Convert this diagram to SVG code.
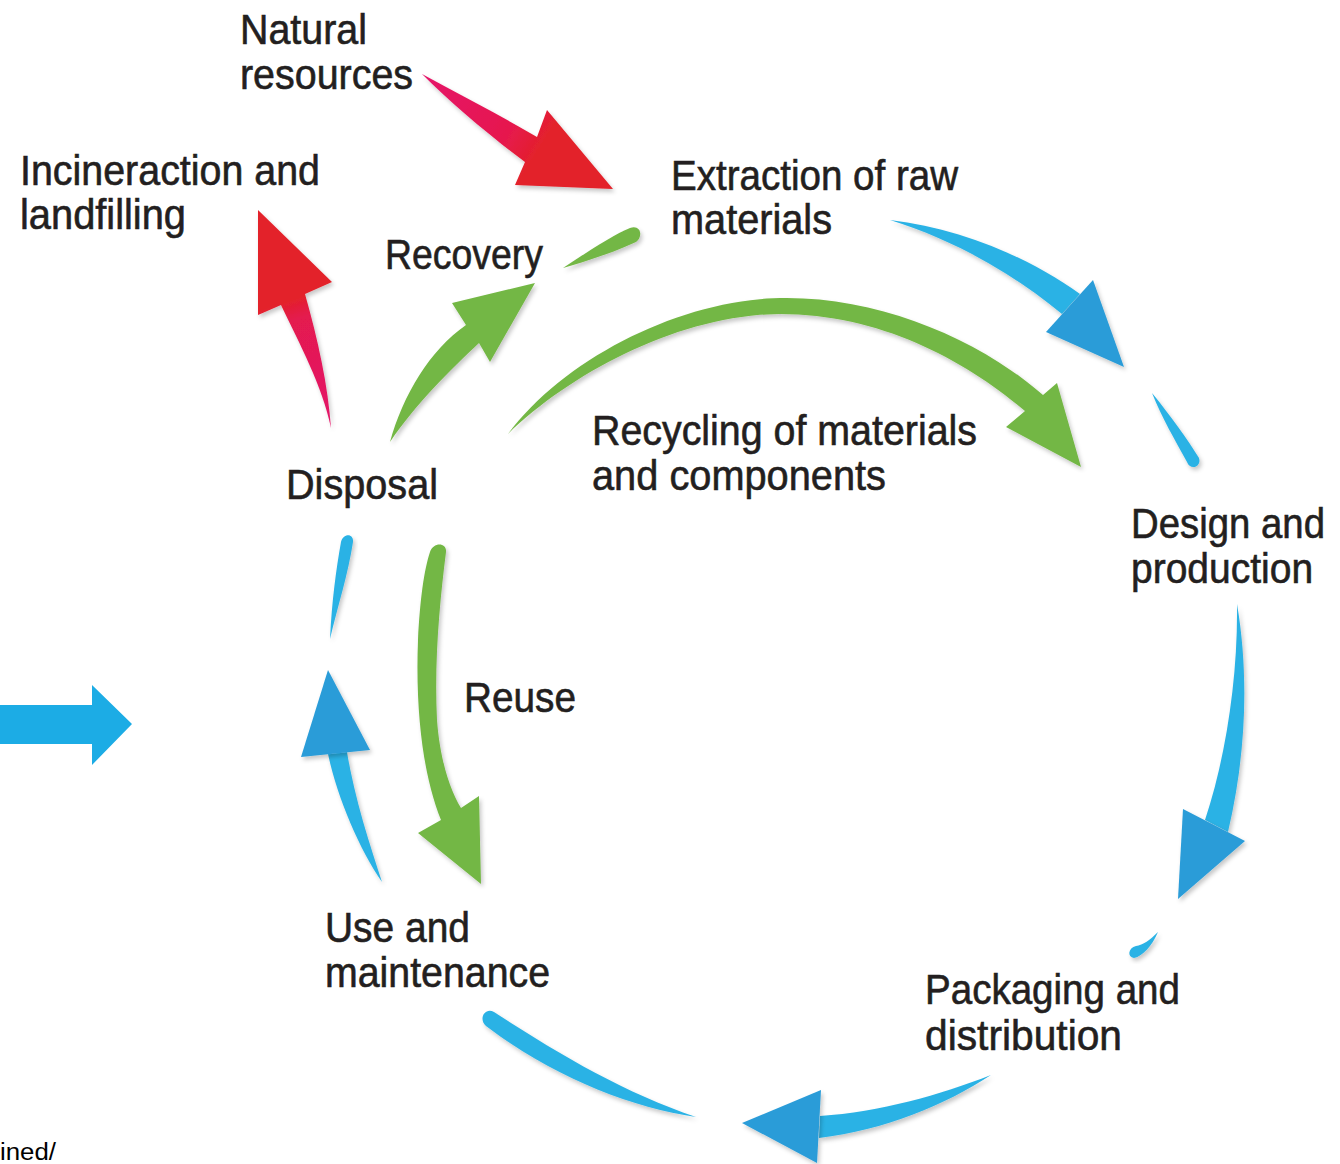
<svg xmlns="http://www.w3.org/2000/svg" width="1340" height="1164" viewBox="0 0 1340 1164">
  <style>
    .lbl { font-family: "Liberation Sans Narrow", "Liberation Sans", Arial, sans-serif; font-size: 42px; fill: #231f20; stroke: #231f20; stroke-width: 0.6px; }
    .note { font-family: "Liberation Sans", Arial, sans-serif; font-size: 23px; fill: #000; }
    .blue { fill: #2cb2e5; }
    .bluehead { fill: #2a9cd8; }
    .green { fill: #73b744; }
    .arrow { filter: url(#soft); }
  </style>
  <defs>
    <filter id="soft" x="-20%" y="-20%" width="140%" height="140%">
      <feDropShadow dx="2" dy="3" stdDeviation="2" flood-color="#000" flood-opacity="0.22"/>
    </filter>
    <linearGradient id="redIn" gradientUnits="userSpaceOnUse" x1="421" y1="76" x2="540" y2="150">
      <stop offset="0" stop-color="#e5176a"/>
      <stop offset="0.75" stop-color="#e6194d"/>
      <stop offset="1" stop-color="#e3212a"/>
    </linearGradient>
    <linearGradient id="redOut" gradientUnits="userSpaceOnUse" x1="330" y1="428" x2="290" y2="300">
      <stop offset="0" stop-color="#e3176a"/>
      <stop offset="0.85" stop-color="#e41a4f"/>
      <stop offset="1" stop-color="#e3212a"/>
    </linearGradient>
  </defs>

  <rect width="1340" height="1164" fill="#ffffff"/>

  <!-- connectors -->
  <g id="connectors">
    <!-- natural resources into extraction -->
    <path class="arrow" fill="url(#redIn)" d="M422,74 C460,95 500,115 537,137 L547,110 L613,189 L515,185 L525,162 C485,132 450,102 422,74 Z"/>
    <!-- disposal to incineration and landfilling -->
    <path class="arrow" fill="url(#redOut)" d="M258,210 L332,282 L305,294 C318,340 328,385 331,428 C322,385 300,345 281,305 L258,315 Z"/>
    <!-- disposal to recovery -->
    <path class="arrow green" d="M535,283 L490,362 L479,343 C450,370 415,405 390,442 C403,395 430,350 466,325 L452,303 Z"/>
    <path class="arrow green" d="M563,268 C590,250 615,234 630,228 C640,224 644,236 636,242 C615,252 590,260 563,268 Z"/>
    <!-- recycling of materials and components -->
    <path class="arrow green" d="M508,434 C565,358 680,300 780,298 C880,296 980,340 1043,395 L1057,383 L1081,467 L1006,427 L1025,411 C965,360 880,314 780,314 C680,315 572,372 508,434 Z"/>
    <!-- extraction to design -->
    <path class="arrow blue" d="M890,220 C960,228 1030,258 1080,294 L1062,314 C1015,275 955,240 890,220 Z"/>
    <path class="arrow bluehead" d="M1093,280 L1124,367 L1046,332 Z"/>
    <path class="arrow blue" d="M1152,393 C1170,415 1188,440 1199,458 C1202,467 1190,471 1187,462 C1175,440 1162,418 1152,393 Z"/>
    <!-- design to packaging -->
    <path class="arrow blue" d="M1237,604 C1250,680 1245,760 1228,832 L1205,820 C1225,760 1238,680 1237,604 Z"/>
    <path class="arrow bluehead" d="M1183,809 L1245,841 L1178,899 Z"/>
    <path class="arrow blue" d="M1158,932 C1150,940 1143,945 1136,946 C1128,948 1127,957 1134,958 C1143,956 1152,946 1158,932 Z"/>
    <!-- packaging to use -->
    <path class="arrow blue" d="M820,1116 C880,1112 940,1095 991,1075 C945,1105 885,1130 819,1138 Z"/>
    <path class="arrow bluehead" d="M742,1123 L821,1090 L817,1163 Z"/>
    <path class="arrow blue" d="M696,1117 C630,1108 550,1075 486,1026 C478,1019 485,1007 494,1012 C560,1055 625,1093 696,1117 Z"/>
    <!-- use to disposal -->
    <path class="arrow blue" d="M347,752 C355,800 370,845 382,882 C360,850 338,800 328,754 Z"/>
    <path class="arrow bluehead" d="M328,670 L370,750 L301,757 Z"/>
    <path class="arrow blue" d="M330,639 C332,600 336,570 341,542 C343,533 354,533 353,542 C348,575 338,605 330,639 Z"/>
    <!-- reuse -->
    <path class="arrow green" d="M481,884 L418,833 L441,820 C425,780 415,720 418,640 C420,600 424,570 430,552 C433,542 447,542 446,552 C440,600 434,660 437,720 C440,760 450,790 461,808 L479,796 Z"/>
    <!-- incoming flow -->
    <path fill="#1cace5" d="M0,705 L92,705 L92,685 L132,724 L92,765 L92,744 L0,744 Z"/>
  </g>

  <!-- nodes -->
  <g id="natural-resources">
    <text class="lbl" x="240" y="44" textLength="127" lengthAdjust="spacingAndGlyphs">Natural</text>
    <text class="lbl" x="240" y="89" textLength="173" lengthAdjust="spacingAndGlyphs">resources</text>
  </g>
  <g id="incineration">
    <text class="lbl" x="20" y="185" textLength="300" lengthAdjust="spacingAndGlyphs">Incineraction and</text>
    <text class="lbl" x="20" y="229" textLength="166" lengthAdjust="spacingAndGlyphs">landfilling</text>
  </g>
  <g id="recovery">
    <text class="lbl" x="385" y="269" textLength="158" lengthAdjust="spacingAndGlyphs">Recovery</text>
  </g>
  <g id="extraction">
    <text class="lbl" x="671" y="190" textLength="287" lengthAdjust="spacingAndGlyphs">Extraction of raw</text>
    <text class="lbl" x="671" y="234" textLength="161" lengthAdjust="spacingAndGlyphs">materials</text>
  </g>
  <g id="recycling">
    <text class="lbl" x="592" y="445" textLength="385" lengthAdjust="spacingAndGlyphs">Recycling of materials</text>
    <text class="lbl" x="592" y="490" textLength="294" lengthAdjust="spacingAndGlyphs">and components</text>
  </g>
  <g id="disposal">
    <text class="lbl" x="286" y="499" textLength="152" lengthAdjust="spacingAndGlyphs">Disposal</text>
  </g>
  <g id="design" transform="translate(1131,0) scale(0.915,1)">
    <text class="lbl" x="0" y="538" textLength="212" lengthAdjust="spacingAndGlyphs">Design and</text>
    <text class="lbl" x="0" y="583" textLength="199" lengthAdjust="spacingAndGlyphs">production</text>
  </g>
  <g id="reuse">
    <text class="lbl" x="464" y="712" textLength="112" lengthAdjust="spacingAndGlyphs">Reuse</text>
  </g>
  <g id="use">
    <text class="lbl" x="325" y="942" textLength="145" lengthAdjust="spacingAndGlyphs">Use and</text>
    <text class="lbl" x="325" y="987" textLength="225" lengthAdjust="spacingAndGlyphs">maintenance</text>
  </g>
  <g id="packaging">
    <text class="lbl" x="925" y="1004" textLength="255" lengthAdjust="spacingAndGlyphs">Packaging and</text>
    <text class="lbl" x="925" y="1050" textLength="197" lengthAdjust="spacingAndGlyphs">distribution</text>
  </g>
  <g id="footnote">
    <text class="note" x="0" y="1160" textLength="56" lengthAdjust="spacingAndGlyphs">ined/</text>
  </g>
</svg>
